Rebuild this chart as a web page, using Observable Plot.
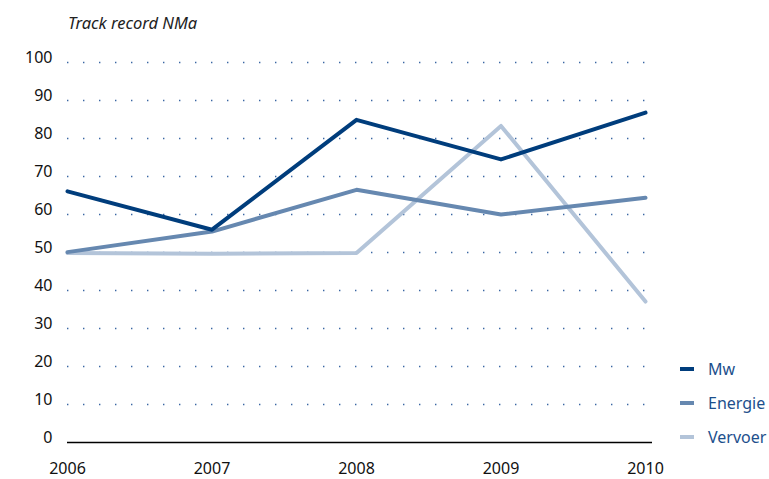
<!DOCTYPE html>
<html>
<head>
<meta charset="utf-8">
<script src="https://cdn.jsdelivr.net/npm/d3@7"></script>
<script src="https://cdn.jsdelivr.net/npm/@observablehq/plot@0.6"></script>
<style>
  html, body { margin: 0; padding: 0; background: #fff; }
  #wrap { position: relative; width: 769px; height: 479px; font-family: "Noto Sans", sans-serif; }
  #title { position: absolute; left: 68px; top: 11px; font-size: 16.5px; font-style: italic; color: #222; }
  #chart { position: absolute; left: 0; top: 40px; }
  #legend { position: absolute; left: 680px; top: 352px; }
  .item { display: flex; align-items: center; height: 34px; }
  .sw { width: 14px; height: 4px; margin-right: 14px; }
  .lab { font-size: 16px; color: #1d4f8c; }
  #chart svg text { font-size: 16px; }
</style>
</head>
<body>
<div id="wrap">
  <div id="title">Track record NMa</div>
  <div id="chart"></div>
  <div id="legend"></div>
</div>
<script>
const years = [2006, 2007, 2008, 2009, 2010];
const seriesNames = ["Mw", "Energie", "Vervoer"];
const mw = [66.1, 56.0, 84.9, 74.5, 86.8];
const energie = [50.1, 55.5, 66.5, 60.0, 64.4];
const vervoer = [49.9, 49.7, 49.9, 83.3, 37.1];
const yTicks = [0, 10, 20, 30, 40, 50, 60, 70, 80, 90, 100];
const colors = ["#003d7c", "#6688b0", "#b3c4d9"];

const valuesBySeries = [mw, energie, vervoer];
const data = [];
seriesNames.forEach((s, i) => years.forEach((y, j) => data.push({series: s, year: y, value: valuesBySeries[i][j]})));

const chart = Plot.plot({
  width: 769,
  height: 439,
  marginLeft: 67,
  marginRight: 124,
  marginTop: 22,
  marginBottom: 37,
  style: {fontFamily: "Noto Sans, sans-serif", fontSize: "16px", color: "#111"},
  x: {domain: [2006, 2010], ticks: years, tickFormat: d => String(d)},
  y: {domain: [0, 100]},
  marks: [
    Plot.ruleY(yTicks.filter(d => d > 0), {stroke: "#3a66a3", strokeWidth: 1.6, strokeDasharray: "1.4 14.6"}),
    Plot.ruleY([0], {stroke: "#000", strokeWidth: 1.6, insetRight: -7}),
    Plot.axisX({ticks: years, tickSize: 0, tickPadding: 20, tickFormat: d => String(d), label: null, fontSize: 16}),
    Plot.axisY({ticks: yTicks, tickSize: 0, tickPadding: 15, dy: -5, label: null, fontSize: 16}),
    Plot.line(data.filter(d => d.series === "Vervoer"), {x: "year", y: "value", stroke: colors[2], strokeWidth: 4}),
    Plot.line(data.filter(d => d.series === "Energie"), {x: "year", y: "value", stroke: colors[1], strokeWidth: 4}),
    Plot.line(data.filter(d => d.series === "Mw"), {x: "year", y: "value", stroke: colors[0], strokeWidth: 4})
  ]
});
document.getElementById("chart").appendChild(chart);

const legend = document.getElementById("legend");
seriesNames.forEach((s, i) => {
  const it = document.createElement("div");
  it.className = "item";
  it.innerHTML = `<div class="sw" style="background:${colors[i]}"></div><div class="lab">${s}</div>`;
  legend.appendChild(it);
});
</script>
</body>
</html>
